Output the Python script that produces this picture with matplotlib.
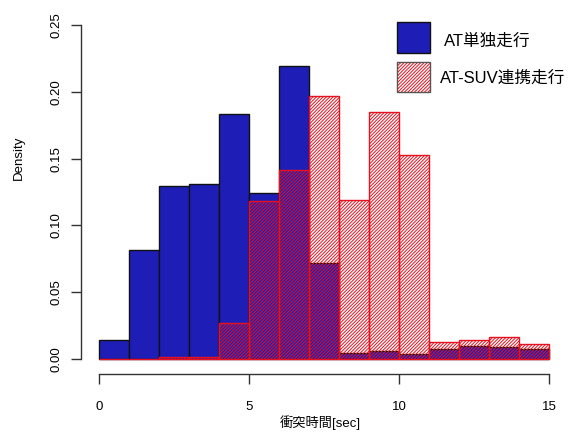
import matplotlib
matplotlib.use('Agg')
import matplotlib.pyplot as plt
import matplotlib.patches as mpatches
import numpy as np

plt.rcParams['font.family'] = ['Liberation Sans', 'Noto Sans CJK JP', 'DejaVu Sans']
plt.rcParams['hatch.linewidth'] = 0.7

# histogram data (bin width 1, 0..15)
bin_edges = np.arange(0, 15, 1)
at_alone = [0.014, 0.0815, 0.1295, 0.1308, 0.1835, 0.124, 0.2197, 0.072,
            0.004, 0.006, 0.0033, 0.0075, 0.0097, 0.009, 0.007]
at_suv = [0.0, 0.0, 0.001, 0.001, 0.0265, 0.1185, 0.1415, 0.197,
          0.119, 0.185, 0.153, 0.0128, 0.014, 0.016, 0.011]

legend_labels = ['AT単独走行', 'AT-SUV連携走行']
x_ticks = [0, 5, 10, 15]
y_ticks = [0.00, 0.05, 0.10, 0.15, 0.20, 0.25]

BLUE = '#1e1eb6'
RED = '#e8101e'
AXIS = '#333333'
HATCH = '//////////'

W, H = 572, 432
fig = plt.figure(figsize=(W / 100, H / 100), dpi=100)
fig.patch.set_facecolor('white')
ax = fig.add_axes([81 / W, 1 - 374.3 / H, (567 - 81) / W, (374.3 - 12) / H])

ax.bar(bin_edges, at_alone, width=1, align='edge', color=BLUE,
       edgecolor='#111111', linewidth=1.0, zorder=2)
ax.bar(bin_edges, at_suv, width=1, align='edge', facecolor='none',
       edgecolor=RED, hatch=HATCH, linewidth=1.0, zorder=3)

ax.set_xlim(-0.6, 15.6)
ax.set_ylim(-0.0117, 0.26)

for s in ['top', 'right']:
    ax.spines[s].set_visible(False)
ax.spines['left'].set_bounds(0, 0.25)
ax.spines['bottom'].set_bounds(0, 15)
for s in ['left', 'bottom']:
    ax.spines[s].set_color(AXIS)
    ax.spines[s].set_linewidth(1.0)

ax.set_xticks(x_ticks)
ax.set_xticklabels([str(t) for t in x_ticks])
ax.set_yticks(y_ticks)
ax.set_yticklabels([f'{t:.2f}' for t in y_ticks], rotation=90, va='center')
ax.tick_params(axis='both', direction='out', length=7, width=1.0,
               color=AXIS, labelsize=9.5, labelcolor='black')
ax.tick_params(axis='y', pad=6)
ax.tick_params(axis='x', pad=12)

fig.text(19 / W, 1 - 158 / H, 'Density', rotation=90, ha='center',
         va='center', fontsize=9.5)
fig.text(320 / W, 1 - 423 / H, '衝突時間[sec]', ha='center', va='center',
         fontsize=9.5)

# legend drawn by hand (no frame)
def fig_rect(x0, y0, x1, y1, **kw):
    return mpatches.Rectangle((x0 / W, 1 - y1 / H), (x1 - x0) / W, (y1 - y0) / H,
                              transform=fig.transFigure, **kw)

fig.patches.append(fig_rect(397, 22, 430, 53, facecolor=BLUE,
                            edgecolor='#111111', linewidth=1.0))
fig.patches.append(fig_rect(397, 62, 430, 92, facecolor='white',
                            edgecolor=RED, hatch=HATCH, linewidth=0))
fig.patches.append(fig_rect(397, 62, 430, 92, facecolor='none',
                            edgecolor='#555555', linewidth=1.0))
fig.text(444 / W, 1 - 41 / H, legend_labels[0], ha='left', va='center',
         fontsize=12)
fig.text(440 / W, 1 - 78 / H, legend_labels[1], ha='left', va='center',
         fontsize=12)

fig.savefig('out.png', dpi=100, facecolor='white')
